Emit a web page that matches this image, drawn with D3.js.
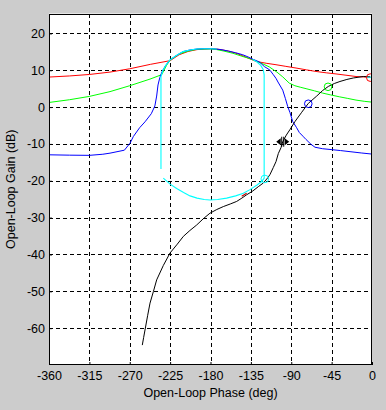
<!DOCTYPE html>
<html><head><meta charset="utf-8">
<script src="https://cdn.jsdelivr.net/npm/d3@7"></script>
<style>
html,body{margin:0;padding:0;background:#cccccc;}
svg{display:block;}
text{font-family:"Liberation Sans",Arial,sans-serif;font-size:12.5px;fill:#000;}
</style>
</head><body>
<svg id="c" width="386" height="410"></svg>
<script>
const phaseTicks = [-360,-315,-270,-225,-180,-135,-90,-45,0];
const gainTicks = [-60,-50,-40,-30,-20,-10,0,10,20];
const phaseDomain = [-360, 0];
const gainDomain = [-70, 25.4];

const redCurve = [[-360,8.15],[-337,8.45],[-315,8.85],[-292,9.5],[-270,10.4],[-247,11.6],[-225,12.6],[-215,14.2],[-205,15.1],[-195,15.6],[-180,15.85],[-170,15.65],[-160,15.2],[-150,14.5],[-140,13.5],[-129.3,12.4],[-118,11.9],[-107,11.5],[-96,11.05],[-84.7,10.6],[-73,10.1],[-62.4,9.67],[-51,9.3],[-40.1,9.0],[-29,8.65],[-17.8,8.3],[-6.7,8.15],[-2,8.1]];

const greenCurve = [[-360,1.25],[-337,2.0],[-315,2.9],[-292,4.2],[-270,5.8],[-247.4,7.6],[-234.4,8.8],[-229,11.3],[-225,12.8],[-215,14.4],[-205,15.2],[-195,15.7],[-180,15.8],[-173,15.6],[-165,15.2],[-155,14.6],[-145,13.8],[-136,13.15],[-128,12.4],[-121.5,11.7],[-114.4,10.9],[-106,9.5],[-99.5,8.2],[-92.2,6.5],[-86,5.8],[-80,5.4],[-73.5,5.0],[-64,4.4],[-55,3.8],[-46,3.3],[-36.5,2.8],[-27,2.35],[-17.8,1.9],[-8,1.55],[0,1.35]];

const blueCurve = [[-360,-12.95],[-337,-13.05],[-315,-13.1],[-300,-12.8],[-292,-12.5],[-276,-11.7],[-269.7,-9.8],[-266,-8.0],[-259,-5.6],[-253,-4.0],[-246,-1.8],[-242,0.3],[-240,3.0],[-238.5,6.0],[-236.5,8.0],[-234,9.6],[-230,11.3],[-225,12.85],[-218,14.0],[-210.7,15.05],[-203,15.5],[-195.4,15.75],[-187,15.85],[-180,15.85],[-173,15.75],[-166,15.5],[-160,15.2],[-152,14.75],[-144,14.2],[-138,13.6],[-132,12.9],[-127,12.4],[-124.8,12.1],[-120,11.0],[-116,10.4],[-113.7,10.0],[-110,8.8],[-107,7.8],[-104.8,6.8],[-99.5,4.6],[-96.5,2.3],[-94,0.2],[-91.4,-1.5],[-88.4,-3.9],[-84,-5.6],[-81,-6.9],[-77,-7.9],[-73.5,-8.8],[-68,-10.1],[-63.5,-10.9],[-55,-11.3],[-46.8,-11.5],[-35,-11.8],[-24.5,-12.1],[-12,-12.45],[0,-12.75]];

const cyanCurve = [[-232.6,-19.3],[-225,-20.9],[-217.7,-22.1],[-210,-23.2],[-202.8,-24.1],[-195,-24.7],[-187,-25.1],[-180.6,-25.2],[-172,-25.1],[-162,-24.7],[-152,-24.1],[-143.4,-23.4],[-136,-22.4],[-128.5,-21.2],[-123,-20.2],[-120.2,-19.3],[-120.2,-10],[-120.2,0],[-120.2,8.8],[-121.3,10.2],[-124,11.3],[-128.5,12.3],[-133,12.9],
  null,
  [-173,15.75],[-180,15.85],[-187,15.85],[-195.4,15.75],[-203,15.5],[-210.7,15.05],[-218,14.0],[-225,12.85],[-230,11.3],[-233,10.0],[-235.2,8.3],[-235.2,0],[-235.2,-10],[-235.2,-16.8]];

const blackCurve = [[-256,-64.6],[-254.5,-62.5],[-253,-60.5],[-250,-56.5],[-247.4,-53.2],[-243.7,-50.1],[-240,-46.9],[-232.6,-43.0],[-225.1,-39.6],[-217,-37.2],[-210.3,-35.1],[-203,-33.5],[-195.4,-32],[-188,-30.3],[-180.6,-28.8],[-173,-27.8],[-165.7,-27],[-158,-26.3],[-150.8,-25.6],[-145,-24.7],[-139.7,-23.8],[-133,-22.8],[-126.7,-21.6],[-121.1,-20.6],[-116.2,-19.2],[-113.7,-18.3],[-110,-16.4],[-107,-14.8],[-104.4,-12.6],[-101.4,-11.0],[-99.5,-9.4],[-95.5,-7.6],[-91.4,-6.1],[-85.8,-3.9],[-78.3,-1.4],[-71,1.0],[-61.6,3.0],[-55,4.5],[-48.7,5.6],[-42,6.4],[-35.7,6.95],[-28,7.5],[-20.8,7.9],[-9.7,8.3],[-2,8.2]];

const redMark = [[-145.2,-24.2],[-139.7,-23.4]];
const cyanMark = [[-6,8.1],[0,8.1]];

const markers = [
  {p:-1.9, g:8.0, c:"#ff0000"},
  {p:-49, g:5.5, c:"#00ff00"},
  {p:-71, g:0.9, c:"#0000ff"},
  {p:-119.5, g:-19.5, c:"#00ffff"}
];
const handle = {p:-99.5, g:-9.4};

const L=49, R=372, T=13.5, B=365;
const svg = d3.select("#c");
const x = d3.scaleLinear().domain(phaseDomain).range([L,R]);
const y = d3.scaleLinear().domain(gainDomain).range([B,T]);

svg.append("rect").attr("x",L).attr("y",T).attr("width",R-L).attr("height",B-T).attr("fill","#fff");

svg.append("defs").append("clipPath").attr("id","clip")
  .append("rect").attr("x",L).attr("y",T).attr("width",R-L).attr("height",B-T);

const grid = svg.append("g").attr("stroke","#000").attr("stroke-dasharray","4,3").attr("shape-rendering","crispEdges");
phaseTicks.filter(t=>t>phaseDomain[0] && t<phaseDomain[1]).forEach(t=>{
  grid.append("line").attr("x1",Math.round(x(t))+0.5).attr("x2",Math.round(x(t))+0.5).attr("y1",T).attr("y2",B);
});
gainTicks.forEach(t=>{
  grid.append("line").attr("y1",Math.round(y(t))+0.5).attr("y2",Math.round(y(t))+0.5).attr("x1",L).attr("x2",R);
});

const xAxis = svg.append("g").attr("transform",`translate(0,${B})`)
  .call(d3.axisBottom(x).tickValues(phaseTicks).tickFormat(d3.format("d")).tickSizeInner(-3).tickSizeOuter(0).tickPadding(6));
const yAxis = svg.append("g").attr("transform",`translate(${L},0)`)
  .call(d3.axisLeft(y).tickValues(gainTicks).tickFormat(d3.format("d")).tickSizeInner(-3).tickSizeOuter(0).tickPadding(4));
[xAxis,yAxis].forEach(a=>{
  a.select(".domain").remove();
  a.selectAll("text").attr("font-family",null).attr("font-size",null).style("fill","#000");
  a.attr("font-family",null).attr("font-size",null);
  a.selectAll(".tick line").attr("stroke","#000");
});
[xAxis,yAxis].forEach(a=>a.selectAll("text").text(d=>String(d)));

const line = d3.line().defined(d=>d!==null).x(d=>x(d[0])).y(d=>y(d[1]));
const curves = svg.append("g").attr("clip-path","url(#clip)").attr("fill","none");
[[redCurve,"#ff0000",1],[greenCurve,"#00ff00",1],[blueCurve,"#0000ff",1],[cyanCurve,"#00ffff",1.1],[blackCurve,"#000000",1],[redMark,"#c00000",1.2],[cyanMark,"#00ffff",1.1]]
  .forEach(([d,c,w])=>{
    curves.append("path").datum(d).attr("d",line).attr("stroke",c).attr("stroke-width",w);
  });

markers.forEach(m=>{
  curves.append("circle").attr("cx",x(m.p)).attr("cy",y(m.g)).attr("r",3.8)
    .attr("fill","none").attr("stroke",m.c).attr("stroke-width",1);
});

const hx = x(handle.p), hy = y(handle.g);
const hg = svg.append("g");
hg.append("path").attr("d",`M${hx-6.5},${hy} L${hx-2},${hy-3.5} L${hx-2},${hy+3.5} Z M${hx+6.5},${hy} L${hx+2},${hy-3.5} L${hx+2},${hy+3.5} Z`).attr("fill","#000");
[-1,1].forEach(o=>{
  hg.append("line").attr("x1",hx+o).attr("x2",hx+o).attr("y1",hy-5).attr("y2",hy+5).attr("stroke","#000").attr("stroke-width",1);
});

svg.append("rect").attr("x",L+0.5).attr("y",T+0.5).attr("width",R-L-1).attr("height",B-T-1)
  .attr("fill","none").attr("stroke","#000").attr("shape-rendering","crispEdges");

svg.append("text").attr("x",(L+R)/2).attr("y",397).attr("text-anchor","middle").text("Open-Loop Phase (deg)");
svg.append("text").attr("transform",`translate(15,${(T+B)/2}) rotate(-90)`).attr("text-anchor","middle").text("Open-Loop Gain (dB)");
</script>
</body></html>
